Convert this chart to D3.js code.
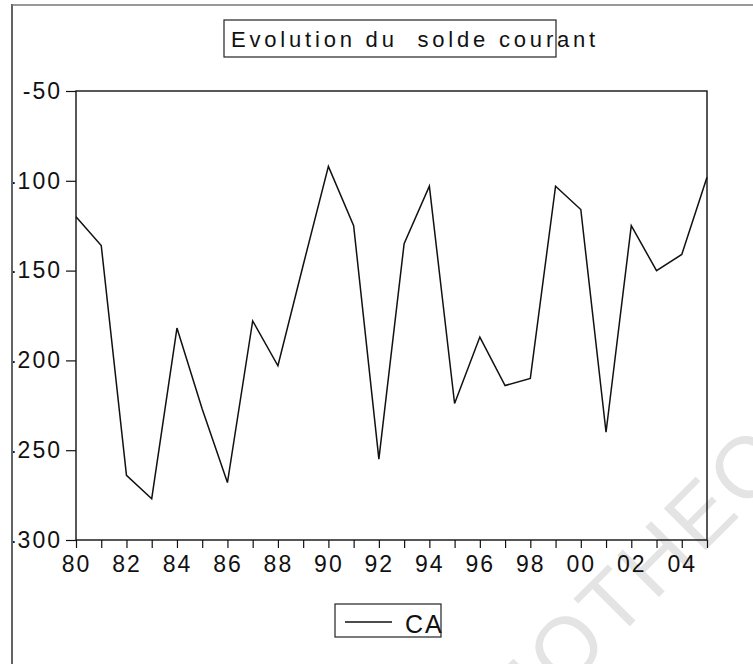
<!DOCTYPE html>
<html>
<head>
<meta charset="utf-8">
<script src="https://cdn.jsdelivr.net/npm/d3@7/dist/d3.min.js"></script>
<style>
  html, body { margin: 0; padding: 0; background: #fff; }
  svg { display: block; }
  text { font-family: "Liberation Sans", Arial, sans-serif; fill: #111; }
</style>
</head>
<body>
<svg id="chart" width="753" height="664"></svg>
<script>
// ====================================
// Données : solde courant (CA)
// ====================================
const years = [1980, 1981, 1982, 1983, 1984, 1985, 1986, 1987, 1988, 1989,
               1990, 1991, 1992, 1993, 1994, 1995, 1996, 1997, 1998, 1999,
               2000, 2001, 2002, 2003, 2004, 2005];
const caValues = [-120, -136, -264, -277, -182, -227, -268, -178, -203, -147,
                  -92, -125, -255, -135, -103, -224, -187, -214, -210, -103,
                  -116, -240, -125, -150, -141, -98];
const yTicks = [-50, -100, -150, -200, -250, -300];
const xLabelYears = [1980, 1982, 1984, 1986, 1988, 1990, 1992, 1994, 1996, 1998, 2000, 2002, 2004];

const titleText = "Evolution du  solde courant";
const seriesName = "CA";

// Zone du graphique
const plot = { left: 76, right: 707, top: 91, bottom: 540 };

const svg = d3.select("#chart");

const x = d3.scaleLinear().domain([1980, 2005]).range([plot.left, plot.right]);
const y = d3.scaleLinear().domain([-50, -300]).range([plot.top, plot.bottom]);

// Filigrane (scan)
const wm = svg.append("g")
    .attr("transform", "translate(612,600) rotate(-45)");
const wmText = wm.append("text")
    .attr("font-size", 86)
    .attr("dy", "0.36em")
    .style("fill", "#e4e4e4")
    .style("letter-spacing", "4px")
    .text("BIBLIOTHEQUE");
// place le "T" au centre du groupe
const tIndex = 6;
const offT = wmText.node().getSubStringLength(0, tIndex) + wmText.node().getSubStringLength(tIndex, 1) / 2;
wmText.attr("x", -offT);

// Cadre de la page
svg.append("line")
    .attr("x1", 12).attr("x2", 12).attr("y1", 4).attr("y2", 664)
    .attr("stroke", "#222").attr("stroke-width", 1.4);
svg.append("line")
    .attr("x1", 12).attr("x2", 753).attr("y1", 5).attr("y2", 5)
    .attr("stroke", "#777").attr("stroke-width", 1.4);

// Titre encadré (le texte déborde du cadre comme sur l'original)
svg.append("rect")
    .attr("x", 224).attr("y", 20)
    .attr("width", 332).attr("height", 37)
    .attr("fill", "none").attr("stroke", "#222").attr("stroke-width", 1.2);
svg.append("text")
    .attr("x", 231).attr("y", 47)
    .attr("font-size", 22)
    .style("letter-spacing", "3.8px")
    .style("white-space", "pre")
    .text(titleText);

// Axe Y (graduations à gauche), coupé au bord de la page
svg.append("clipPath").attr("id", "page-clip")
    .append("rect").attr("x", 13).attr("y", 0).attr("width", 740).attr("height", 664);

const yAxis = svg.append("g")
    .attr("clip-path", "url(#page-clip)")
    .append("g")
    .attr("transform", `translate(${plot.left},0)`)
    .call(d3.axisLeft(y)
        .tickValues(yTicks)
        .tickSize(10)
        .tickPadding(4)
        .tickFormat(d => String(d)));   // trait d'union simple, pas de signe moins unicode
yAxis.select(".domain").remove();
yAxis.selectAll(".tick line").attr("stroke", "#111").attr("stroke-width", 1.2);
yAxis.selectAll(".tick text")
    .attr("font-size", 23)
    .style("letter-spacing", "2px")
    .style("font-family", "'Liberation Sans', Arial, sans-serif")
    .attr("fill", "#111");

// Axe X (une graduation par année, étiquettes tous les 2 ans)
const xAxis = svg.append("g")
    .attr("transform", `translate(0,${plot.bottom})`)
    .call(d3.axisBottom(x)
        .tickValues(years)
        .tickSize(8)
        .tickPadding(8)
        .tickFormat(d => xLabelYears.includes(d) ? String(d).slice(2) : ""));
xAxis.select(".domain").remove();
xAxis.selectAll(".tick line").attr("stroke", "#111").attr("stroke-width", 1.2);
xAxis.selectAll(".tick text")
    .attr("font-size", 23)
    .style("letter-spacing", "2px")
    .style("font-family", "'Liberation Sans', Arial, sans-serif")
    .attr("fill", "#111");

// Cadre du graphique
svg.append("rect")
    .attr("x", plot.left).attr("y", plot.top)
    .attr("width", plot.right - plot.left)
    .attr("height", plot.bottom - plot.top)
    .attr("fill", "none").attr("stroke", "#111").attr("stroke-width", 1.4);

// Série
const line = d3.line()
    .x((d, i) => x(years[i]))
    .y(d => y(d));

svg.append("path")
    .datum(caValues)
    .attr("d", line)
    .attr("fill", "none")
    .attr("stroke", "#111")
    .attr("stroke-width", 1.5)
    .attr("stroke-linejoin", "miter");

// Légende
const legend = svg.append("g").attr("transform", "translate(335,604)");
legend.append("rect")
    .attr("width", 106).attr("height", 33)
    .attr("fill", "none").attr("stroke", "#222").attr("stroke-width", 1.2);
legend.append("line")
    .attr("x1", 10).attr("x2", 57).attr("y1", 18).attr("y2", 18)
    .attr("stroke", "#111").attr("stroke-width", 1.3);
legend.append("text")
    .attr("x", 70).attr("y", 29)
    .attr("font-size", 25)
    .style("letter-spacing", "2px")
    .text(seriesName);
</script>
</body>
</html>
